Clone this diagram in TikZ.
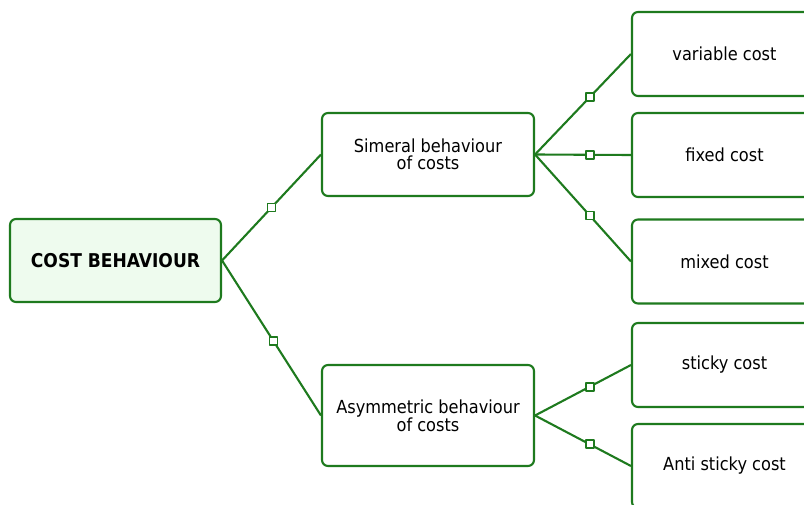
\documentclass[tikz,border=0pt]{standalone}
\usepackage{fontspec}
\setmainfont{DejaVu Sans Condensed}
\definecolor{mapgreen}{RGB}{30,122,30}
\definecolor{rootfill}{RGB}{238,251,238}
\begin{document}
\begin{tikzpicture}[line join=round, x=1pt, y=-1pt]
    \tikzset{
        topic box/.style={draw=mapgreen, line width=2.1pt, rounded corners=6pt, fill=white,
            minimum width=212pt, minimum height=83pt, inner sep=2pt, align=center,
            font=\fontsize{18}{17}\selectfont},
        root box/.style={topic box, fill=rootfill, minimum width=211pt,
            font=\fontsize{19}{17}\selectfont\bfseries},
        leaf box/.style={topic box, minimum width=185pt, minimum height=84pt},
        branch/.style={draw=mapgreen, line width=2.1pt},
        joint/.style={draw=mapgreen, fill=white, line width=1.6pt, rectangle,
            minimum size=8pt, inner sep=0pt}
    }
    \useasboundingbox (0,0) rectangle (804,505);
    \node[root box] (root) at (115.5,260.5) {COST BEHAVIOUR};
    \node[topic box] (simeral) at (428,154.5) {Simeral behaviour\\of costs};
    \node[topic box, minimum height=101pt] (asym) at (428,415.5) {Asymmetric behaviour\\of costs};
    \draw[branch] (root.east) -- (simeral.west) node[joint, pos=0.5] {};
    \draw[branch] (root.east) -- (asym.west) node[joint, pos=0.52] {};
    \foreach \name/\y/\txt in {variable/54/variable cost, fixed/155/fixed cost, mixed/261.5/mixed cost}{
        \node[leaf box] (\name) at (724.5,\y) {\txt};
        \draw[branch] (simeral.east) -- (\name.west) node[joint, pos=0.57] {};
    }
    \foreach \name/\y/\txt in {sticky/365/sticky cost, antisticky/466/Anti sticky cost}{
        \node[leaf box] (\name) at (724.5,\y) {\txt};
        \draw[branch] (asym.east) -- (\name.west) node[joint, pos=0.57] {};
    }
\end{tikzpicture}
\end{document}
